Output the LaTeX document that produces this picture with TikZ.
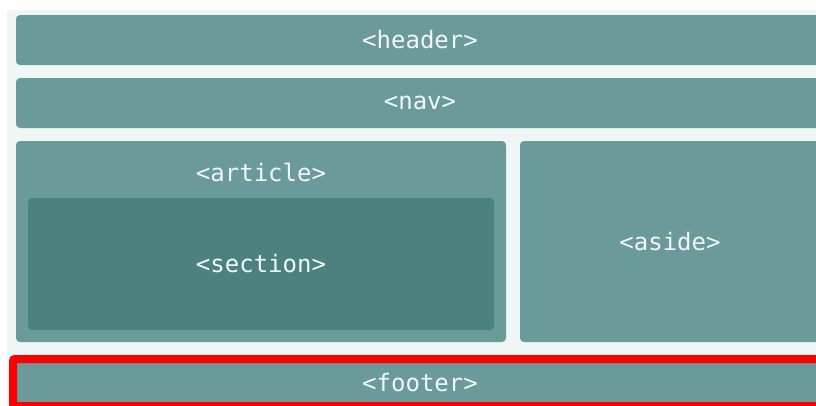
\documentclass[tikz,border=0pt]{standalone}
\usepackage{fontspec}
\setmonofont{DejaVu Sans Mono}
\usepackage{xcolor}
\usepackage{tikz}
\usetikzlibrary{positioning}

\definecolor{pagebg}{HTML}{EFF6F6}
\definecolor{boxteal}{HTML}{6A9A99}
\definecolor{sectteal}{HTML}{4B8280}
\definecolor{tagwhite}{HTML}{F2F7F7}
\definecolor{markred}{HTML}{FF0000}

\begin{document}
\begin{tikzpicture}[x=1pt, y=-1pt,
   layoutbox/.style={fill=boxteal, rounded corners=4pt, inner sep=0pt},
   innerbox/.style={fill=sectteal, rounded corners=4pt, inner sep=0pt},
   tag/.style={text=tagwhite, font=\ttfamily\fontsize{24}{26}\selectfont}]
\useasboundingbox (0,0) rectangle (816,405);
\clip (0,0) rectangle (816,405);

% Page background
\fill[pagebg] (7,10) rectangle (840,420);

% Full-width rows
\node[layoutbox, tag, minimum width=808pt, minimum height=50pt] (header) at (420,40) {<header>};
\node[layoutbox, tag, minimum width=808pt, minimum height=50pt] (nav) at (420,103) {<nav>};

% Main area
\node[layoutbox, minimum width=490pt, minimum height=201pt] (article) at (261,241.5) {};
\node[tag] (articletag) at (261,172) {<article>};
\node[innerbox, tag, minimum width=466pt, minimum height=132pt] (section) at (261,264) {<section>};
\node[layoutbox, tag, minimum width=300pt, minimum height=201pt] (aside) at (670,241.5) {<aside>};

% Footer, marked in red
\node[layoutbox, tag, minimum width=808pt, minimum height=41pt] (footer) at (420,382.5) {<footer>};
\node[draw=markred, line width=8pt, rounded corners=2pt, minimum width=817pt, minimum height=47pt] (footermark) at (421.5,382.5) {};
\end{tikzpicture}
\end{document}
